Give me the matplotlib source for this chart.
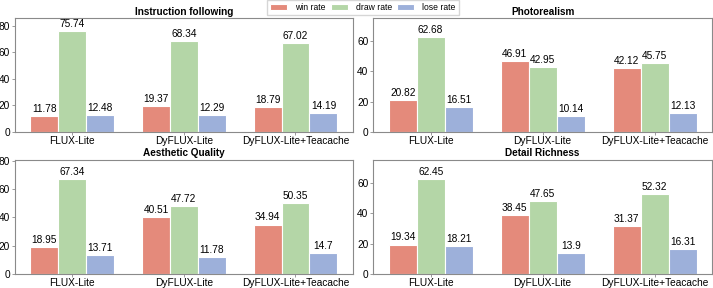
import numpy as np
import matplotlib
matplotlib.use("Agg")
import matplotlib.pyplot as plt

plt.rcParams['font.family'] = ['Liberation Sans', 'DejaVu Sans']

models = ["FLUX-Lite", "DyFLUX-Lite", "DyFLUX-Lite+Teacache"]
series = ["win rate", "draw rate", "lose rate"]
colors = ["#E48A7B", "#B4D6A7", "#9DB0DA"]

titles = ["Instruction following", "Photorealism", "Aesthetic Quality", "Detail Richness"]
win = [[11.78, 19.37, 18.79], [20.82, 46.91, 42.12], [18.95, 40.51, 34.94], [19.34, 38.45, 31.37]]
draw = [[75.74, 68.34, 67.02], [62.68, 42.95, 45.75], [67.34, 47.72, 50.35], [62.45, 47.65, 52.32]]
lose = [[12.48, 12.29, 14.19], [16.51, 10.14, 12.13], [13.71, 11.78, 14.7], [18.21, 13.9, 16.31]]
ytops = [85.5, 75.2, 80.8, 75.0]

W, H = 713, 288
fig = plt.figure(figsize=(W / 100, H / 100), dpi=100)

# pixel boxes: left, top, right, bottom
boxes = [(15, 18.3, 352.7, 131.7), (373.3, 18.3, 712, 131.7),
         (15, 159.7, 352.7, 274), (373.3, 159.7, 712, 274)]

spine_col = "#8a8a8a"
x = np.arange(len(models))
bw = 0.25
handles = []
for k, (l, t, r, b) in enumerate(boxes):
    ax = fig.add_axes([l / W, 1 - b / H, (r - l) / W, (b - t) / H])
    vals = [win[k], draw[k], lose[k]]
    for j, v in enumerate(vals):
        bars = ax.bar(x + (j - 1) * bw, v, bw, color=colors[j], edgecolor="white",
                      linewidth=0.8, label=series[j])
        ax.bar_label(bars, labels=[f"{val:g}" for val in v], padding=1.5, fontsize=7.3)
        if k == 0:
            handles.append(bars)
    ax.set_ylim(0, ytops[k])
    ax.set_xticks(x)
    ax.set_xticklabels(models, fontsize=7.3)
    ax.tick_params(axis="y", labelsize=7.3, length=2.5, width=0.6, color=spine_col, pad=1)
    ax.tick_params(axis="x", length=2, width=0.6, color=spine_col, pad=1)
    for s in ax.spines.values():
        s.set_color(spine_col)
        s.set_linewidth(0.8)
    ax.set_title(titles[k], fontsize=7.2, fontweight="bold", pad=2.5)

fig.legend(handles, series, loc="upper center", bbox_to_anchor=(0.509, 1.015), ncol=3,
           fontsize=6.2, frameon=True, edgecolor="#cccccc", fancybox=False,
           handlelength=2.0, handleheight=0.8, columnspacing=0.6, borderpad=0.35,
           handletextpad=0.9)

fig.savefig("out.png", dpi=100)
